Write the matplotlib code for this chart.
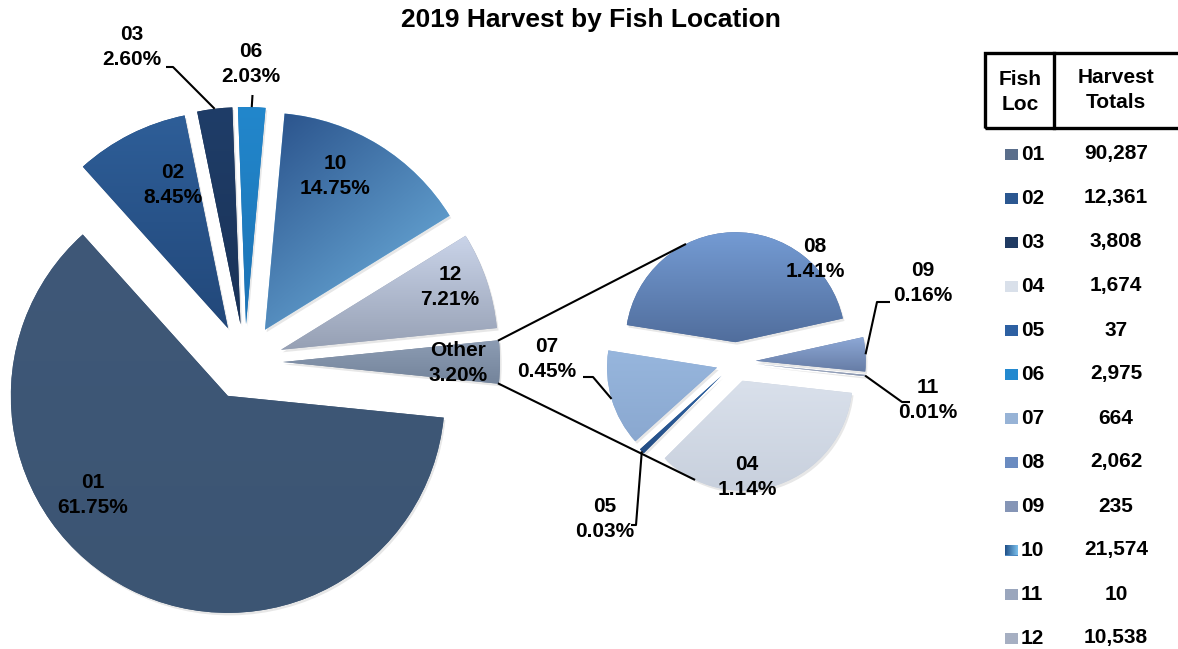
import numpy as np
import matplotlib.pyplot as plt
from matplotlib.patches import Rectangle
from matplotlib.colors import to_rgb
import matplotlib.patheffects as pe

plt.rcParams['font.family'] = ['Liberation Sans', 'DejaVu Sans']
plt.rcParams['font.weight'] = 'bold'

# harvest totals per fish location
main_locs = ['01', '02', '03', '06', '10', '12']
main_totals = [90287, 12361, 3808, 2975, 21574, 10538]
other_locs = ['08', '09', '11', '04', '05', '07']
other_totals = [2062, 235, 10, 1674, 37, 664]
table_locs = ['01', '02', '03', '04', '05', '06', '07', '08', '09', '10', '11', '12']
table_totals = [90287, 12361, 3808, 1674, 37, 2975, 664, 2062, 235, 21574, 10, 10538]

grand = sum(table_totals)
other_sum = sum(other_totals)

# (top colour, bottom colour, gradient direction in degrees)
shades = {
    '01': ('#3f5878', '#3c5573', -90),
    '02': ('#2e5e98', '#22487a', -90),
    '03': ('#1f3d68', '#1a3358', -90),
    '06': ('#2287cc', '#1c73b5', -90),
    '10': ('#29518a', '#74b8e4', -50),
    '12': ('#cad4e9', '#96a0b4', -90),
    'Other': ('#8c9cb3', '#74849b', -90),
    '08': ('#749bd3', '#516e9d', -90),
    '09': ('#8da8d6', '#667ca5', -90),
    '11': ('#a9b6cf', '#8c98b0', -90),
    '04': ('#d9e0eb', '#c8d0dd', -90),
    '05': ('#2f66a8', '#254e85', -90),
    '07': ('#97b6dd', '#8aa8d0', -90),
}
legend_colors = {
    '01': '#5a6e8b', '02': '#2b5790', '03': '#1f3a62', '04': '#d9e0ea',
    '05': '#2d60a2', '06': '#2389cf', '07': '#97b3d6', '08': '#6a8bc0',
    '09': '#8595b6', '11': '#9aa6bd', '12': '#a6afc2',
}

W, H = 1178, 649
C1, R1 = (245, 287), 217
C2, R2 = (736, 287), 110
FS = 15

fig = plt.figure(figsize=(W / 100, H / 100), dpi=100)
ax = fig.add_axes([0, 0, 1, 1])

shadow = [pe.SimplePatchShadow(offset=(1.2, -1.8), shadow_rgbFace='#a0a0a0', alpha=0.25), pe.Normal()]

main_vals = main_totals + [other_sum]
main_names = main_locs + ['Other']
w1, _ = ax.pie(main_vals, center=C1, radius=R1, explode=[0.175 * R1] * len(main_vals),
               startangle=-180 * other_sum / grand, counterclock=False,
               colors=[shades[k][1] for k in main_names],
               wedgeprops=dict(linewidth=0, path_effects=shadow))

w2, _ = ax.pie(other_totals, center=C2, radius=R2, explode=[0.18 * R2] * len(other_totals),
               startangle=171, counterclock=False,
               colors=[shades[k][1] for k in other_locs],
               wedgeprops=dict(linewidth=0, path_effects=shadow))


def shade(w, c0, c1, ang):
    if isinstance(w, Rectangle):
        x0, y0, x1, y1 = w.get_bbox().extents
    else:
        x0, y0, x1, y1 = w.get_path().get_extents().extents
    n = 80
    X, Y = np.meshgrid(np.linspace(x0, x1, n), np.linspace(y0, y1, n))
    d = np.array([np.cos(np.radians(ang)), np.sin(np.radians(ang))])
    p = X * d[0] + Y * d[1]
    t = (p - p.min()) / max(p.max() - p.min(), 1e-9)
    a, b = np.array(to_rgb(c0)), np.array(to_rgb(c1))
    img = a[None, None, :] * (1 - t[..., None]) + b[None, None, :] * t[..., None]
    im = ax.imshow(img, extent=(x0, x1, y0, y1), origin='lower', interpolation='bilinear', zorder=w.get_zorder() + 0.1)
    im.set_clip_path(w)


for w, k in zip(list(w1) + list(w2), main_names + other_locs):
    shade(w, *shades[k])


def arc_point(w, ang=None):
    if ang is None:
        ang = (w.theta1 + w.theta2) / 2
    cx, cy = w.center
    return cx + w.r * np.cos(np.radians(ang)), cy + w.r * np.sin(np.radians(ang))


def tangent(p, w, upper):
    cx, cy = w.center
    dx, dy = p[0] - cx, p[1] - cy
    d = np.hypot(dx, dy)
    base = np.degrees(np.arctan2(dy, dx))
    alpha = np.degrees(np.arccos(w.r / d))
    return arc_point(w, base - alpha if upper else base + alpha)


# connector lines from "Other" to the secondary pie
wo = w1[-1]
top = arc_point(wo, wo.theta2)
bot = arc_point(wo, wo.theta1)
t_top = tangent(top, w2[0], True)
t_bot = tangent(bot, w2[3], False)
ax.plot([top[0], t_top[0]], [top[1], t_top[1]], color='black', lw=1.5, zorder=5)
ax.plot([bot[0], t_bot[0]], [bot[1], t_bot[1]], color='black', lw=1.5, zorder=5)

wedge_of = dict(zip(main_names + other_locs, list(w1) + list(w2)))
pct = {k: v / grand * 100 for k, v in zip(main_names + other_locs, main_vals + other_totals)}

label_pos = {
    '01': (93, 154), '02': (173, 464), '03': (132, 602), '06': (251, 585),
    '10': (335, 473), '12': (450, 362), 'Other': (458, 286),
    '07': (547, 290), '05': (605, 130), '04': (747, 172), '08': (815, 390),
    '09': (923, 366), '11': (928, 249),
}
for k, (x, y) in label_pos.items():
    ax.text(x, y, f'{k}\n{pct[k]:.2f}%', ha='center', va='center', fontsize=FS,
            linespacing=1.45, zorder=6)

# leader lines: label side points, then the slice edge
leaders = {
    '03': [(166, 582), (173, 582)],
    '06': [(252.5, 554)],
    '07': [(583, 272), (593, 272)],
    '05': [(631, 124), (636, 124)],
    '09': [(890, 347), (877, 347)],
    '11': [(910, 247), (902, 247)],
}
for k, pts in leaders.items():
    xs, ys = zip(*(pts + [arc_point(wedge_of[k])]))
    ax.plot(xs, ys, color='black', lw=1.5, zorder=5, solid_capstyle='butt')

ax.text(591, 629, '2019 Harvest by Fish Location', ha='center', va='center', fontsize=19)

# table on the right
ax.add_patch(Rectangle((985, 521), 200, 75, fill=False, lw=2.4, edgecolor='black', clip_on=False))
ax.plot([1054, 1054], [521, 596], color='black', lw=2.4)
ax.text(1020, 557, 'Fish\nLoc', ha='center', va='center', fontsize=FS, linespacing=1.45)
ax.text(1116, 559, 'Harvest\nTotals', ha='center', va='center', fontsize=FS, linespacing=1.45)
for i, (loc, tot) in enumerate(zip(table_locs, table_totals)):
    y = 495 - i * 44.0
    sq = Rectangle((1005, y - 5.5), 13, 11, lw=0, facecolor=legend_colors.get(loc, '#4a86c0'))
    ax.add_patch(sq)
    if loc == '10':
        shade(sq, '#1f4f88', '#7cc0ec', 0)
    ax.text(1021, y, loc, ha='left', va='center', fontsize=FS)
    ax.text(1116, y, f'{tot:,}', ha='center', va='center', fontsize=FS)

ax.set_xlim(0, W)
ax.set_ylim(0, H)
ax.set_aspect('equal')
ax.axis('off')

fig.savefig('out.png', dpi=100)
